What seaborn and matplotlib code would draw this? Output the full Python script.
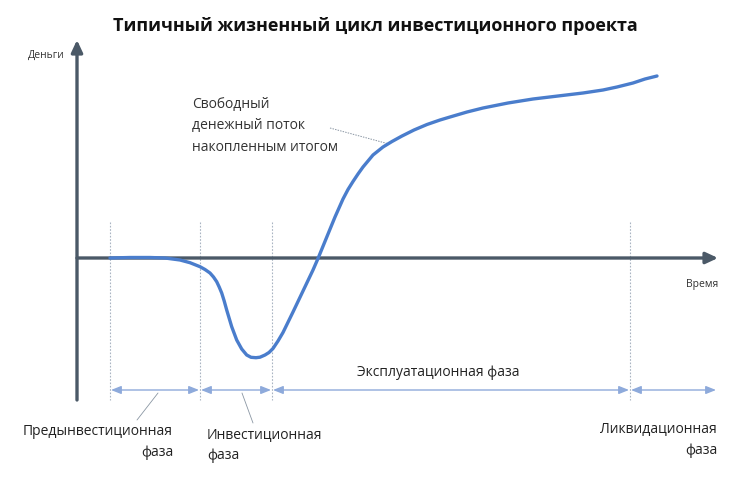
import matplotlib
matplotlib.use("Agg")
import matplotlib.pyplot as plt
import seaborn as sns
import pandas as pd

# Curve: cumulative free cash flow (time, money) in chart units
time = [33, 53, 73, 88, 103, 113, 123, 128, 133, 136.5, 139.7, 142.2, 144.7, 147.2,
        149.7, 154.7, 159.7, 164.7, 169.7, 174, 179, 183, 188, 192, 196, 201, 206,
        216, 226, 236, 241, 250, 258, 266, 271, 276, 281, 286, 296, 306, 315, 325,
        337, 350, 363, 373, 390, 406, 431, 456, 481, 506, 526, 540, 556, 568, 580]
money = [0, 0.5, 0.5, 0, -2, -4.7, -8.7, -11.5, -15, -19, -23.7, -29, -35, -43,
         -52, -68.7, -82, -91, -97, -99.3, -99.7, -99.2, -97, -94.5, -90.5, -83, -74.5,
         -54, -33, -12, -0.5, 21.5, 41, 59, 68.5, 76.5, 84, 91, 103, 111, 116.5, 122,
         128, 133.5, 138, 141, 146, 150, 155, 159, 162, 165, 168, 171, 175, 179, 182]

# Phase boundaries on the time axis
phase_bounds = [33, 123, 195, 553, 640]
phase_names = ["Предынвестиционная\nфаза", "Инвестиционная\nфаза",
               "Эксплуатационная фаза", "Ликвидационная\nфаза"]

title = "Типичный жизненный цикл инвестиционного проекта"
curve_label = "Свободный\nденежный поток\nнакопленным итогом"
y_label = "Деньги"
x_label = "Время"

sns.set_theme(style="white")
plt.rcParams['font.family'] = ['Open Sans', 'DejaVu Sans']

fig = plt.figure(figsize=(7.5, 4.88), dpi=100)
ax = fig.add_axes([0, 0, 1, 1])
ax.set_xlim(-77, 673)
ax.set_ylim(-230, 258)
ax.axis("off")

axis_col = "#4b5967"
line_col = "#4a7dcc"
arrow_col = "#8eaadb"
dash_col = "#a9b4c2"

# vertical dotted phase separators
for b in phase_bounds[:-1]:
    ax.plot([b, b], [36, -142], color=dash_col, lw=0.8, ls=(0, (1.5, 1.5)), zorder=1)

# axes with arrows
ax.annotate("", xy=(0, 218), xytext=(0, -142),
            arrowprops=dict(arrowstyle="-|>,head_length=0.6,head_width=0.28",
                            color=axis_col, lw=2.4, shrinkA=0, shrinkB=0))
ax.annotate("", xy=(641, 0), xytext=(0, 0),
            arrowprops=dict(arrowstyle="-|>,head_length=0.6,head_width=0.28",
                            color=axis_col, lw=2.4, shrinkA=0, shrinkB=0))

df = pd.DataFrame({"time": time, "money": money})
sns.lineplot(data=df, x="time", y="money", ax=ax, color=line_col, lw=2.4,
             sort=False, zorder=3, solid_joinstyle="round", solid_capstyle="round")

# phase arrows
for a, b in zip(phase_bounds[:-1], phase_bounds[1:]):
    ax.annotate("", xy=(b - 1, -132), xytext=(a + 1, -132),
                arrowprops=dict(arrowstyle="<|-|>,head_length=0.5,head_width=0.2",
                                color=arrow_col, lw=1.0, shrinkA=0, shrinkB=0))

# texts
ax.text(298, 232, title, ha="center", va="center", fontsize=13, fontweight="bold",
        color="#111111")
ax.text(-31, 203, y_label, ha="center", va="center", fontsize=7.5, color="#333333")
ax.text(641, -27, x_label, ha="right", va="center", fontsize=7.5, color="#333333")
ax.text(115, 132, curve_label, ha="left", va="center", fontsize=10,
        color="#333333", linespacing=1.6)
ax.plot([253, 312], [130, 114], color="#8a96a3", lw=0.7, ls=(0, (1.5, 1.2)))

ax.text(96, -184, phase_names[0], ha="right", va="center", fontsize=10,
        color="#222222", linespacing=1.5)
ax.plot([81, 60], [-135, -162], color="#8a96a3", lw=0.6)
ax.text(130, -187, phase_names[1], ha="left", va="center", fontsize=10,
        color="#222222", linespacing=1.5)
ax.plot([165, 176], [-135, -165], color="#8a96a3", lw=0.6)
ax.text(361, -114, phase_names[2], ha="center", va="center", fontsize=10,
        color="#222222")
ax.text(640, -182, phase_names[3], ha="right", va="center", fontsize=10,
        color="#222222", linespacing=1.5)

fig.savefig("out.png", dpi=100, facecolor="white")
